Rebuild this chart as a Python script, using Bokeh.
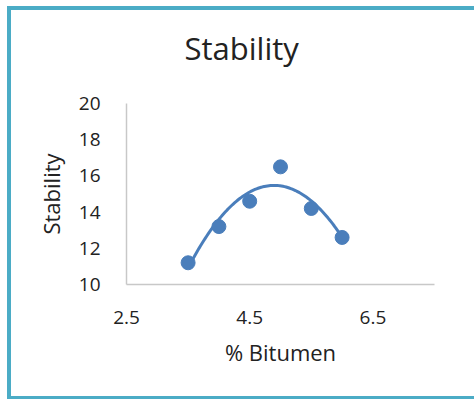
import numpy as np
from bokeh.plotting import figure
from bokeh.layouts import column
from bokeh.models import FixedTicker, Range1d, Title
from bokeh.embed import file_html
from bokeh.resources import INLINE

# Marshall test results: bitumen content vs stability
bitumen_pct = [3.5, 4.0, 4.5, 5.0, 5.5, 6.0]
stability = [11.2, 13.2, 14.6, 16.5, 14.2, 12.6]

x_ticks = [2.5, 4.5, 6.5]
y_ticks = [10, 12, 14, 16, 18, 20]

BLUE = "#4A7EBB"
FRAME_BLUE = "#4BACC6"
FONT = "Open Sans"

# the figure reaches up over the frame's top edge (transparent border fill),
# which leaves room for a wide gap under the title
p = figure(
    width=463, height=408,
    x_range=Range1d(2.5, 7.5), y_range=Range1d(10, 20),
    output_backend="svg", toolbar_location=None,
    min_border_left=115, min_border_right=40,
    min_border_top=115, min_border_bottom=112,
    background_fill_color="white", border_fill_color=None,
    styles={"margin-top": "-22px"},
)
p.outline_line_color = None
p.grid.grid_line_color = None

title = Title(text="Stability", align="left", offset=58, standoff=70,
              text_font=FONT, text_font_size="31px",
              text_font_style="normal", text_color="#222222")
p.add_layout(title, "above")

for ax in (p.xaxis[0], p.yaxis[0]):
    ax.axis_line_color = "#c8c8c8"
    ax.axis_line_width = 1.5
    ax.major_tick_line_color = None
    ax.minor_tick_line_color = None
    ax.major_label_text_font = FONT
    ax.major_label_text_font_size = "19px"
    ax.major_label_text_color = "#222222"
    ax.axis_label_text_font = FONT
    ax.axis_label_text_font_style = "normal"
    ax.axis_label_text_color = "#222222"
    ax.major_label_standoff = 20

p.xaxis.ticker = FixedTicker(ticks=x_ticks)
p.yaxis.ticker = FixedTicker(ticks=y_ticks)
p.xaxis.axis_label = "% Bitumen"
p.yaxis.axis_label = "Stability"
p.xaxis.axis_label_text_font_size = "22px"
p.yaxis.axis_label_text_font_size = "22px"
p.xaxis.axis_label_standoff = 10
p.yaxis.axis_label_standoff = 10

# second-order polynomial trendline through the measurements
coef = np.polyfit(bitumen_pct, stability, 2)
xs = np.linspace(min(bitumen_pct), max(bitumen_pct), 100)
p.line(xs, np.polyval(coef, xs), line_color=BLUE, line_width=3)

p.scatter(bitumen_pct, stability, size=14, fill_color=BLUE, line_color=BLUE)

# chart frame around the figure
layout = column(p, styles={
    "margin-left": "7px",
    "margin-top": "6px",
    "border-left": f"4px solid {FRAME_BLUE}",
    "border-top": f"4px solid {FRAME_BLUE}",
    "border-bottom": f"3px solid {FRAME_BLUE}",
    "background-color": "white",
})

open("out.html", "w").write(file_html(layout, INLINE))
